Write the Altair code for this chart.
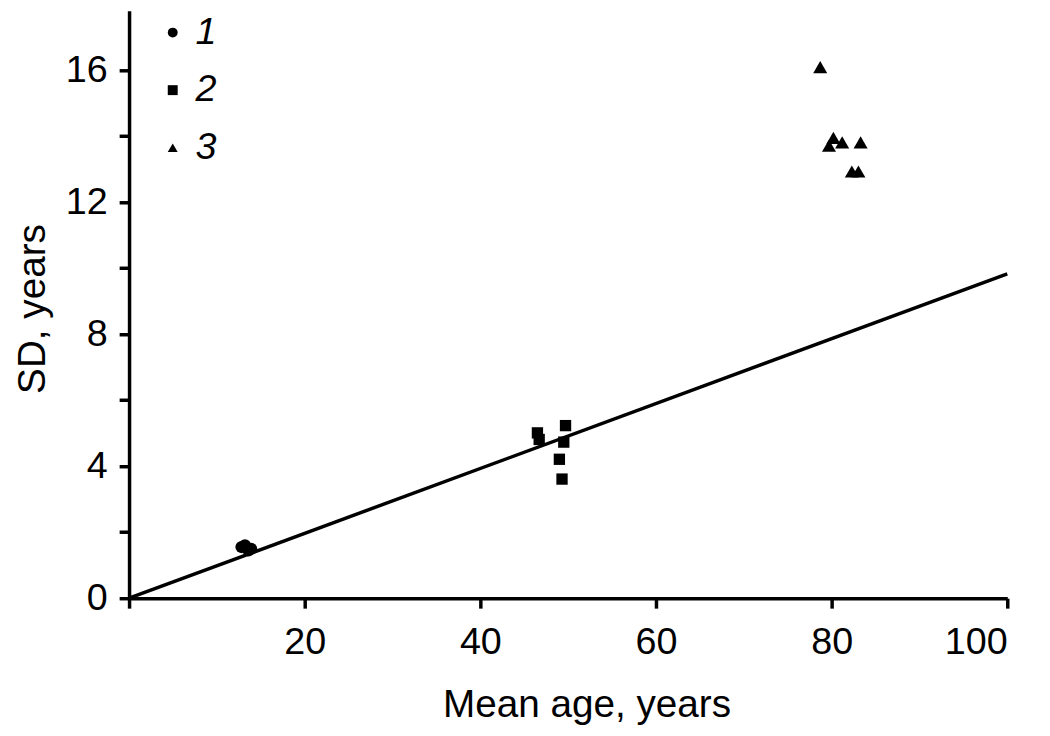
import altair as alt
import pandas as pd

# Group 1 (circles)
g1_x = [12.8, 13.2, 13.6, 13.9]
g1_y = [1.55, 1.60, 1.45, 1.50]
# Group 2 (squares)
g2_x = [46.5, 46.7, 49.7, 49.5, 49.0, 49.3]
g2_y = [5.01, 4.81, 5.23, 4.73, 4.21, 3.61]
# Group 3 (triangles)
g3_x = [78.7, 80.2, 79.7, 81.2, 83.3, 82.3, 83.05]
g3_y = [16.09, 13.95, 13.71, 13.81, 13.81, 12.93, 12.93]

# Regression line
fit_x = [0, 100]
fit_y = [0, 9.83]

group_labels = ["1", "2", "3"]
x_ticks = [0, 20, 40, 60, 80, 100]
y_ticks = [0, 2, 4, 6, 8, 10, 12, 14, 16]

rows = []
for lab, xs, ys in zip(group_labels, [g1_x, g2_x, g3_x], [g1_y, g2_y, g3_y]):
    for a, b in zip(xs, ys):
        rows.append({"age": a, "sd": b, "group": lab})
pts = pd.DataFrame(rows)
line_df = pd.DataFrame({"age": fit_x, "sd": fit_y})

FONT = "Liberation Sans"

xscale = alt.Scale(domain=[0, 100], nice=False, zero=False)
yscale = alt.Scale(domain=[0, 17.8], nice=False, zero=False)

xaxis = alt.Axis(
    values=x_ticks,
    labelExpr="datum.value == 0 ? '' : datum.label",
    title="Mean age, years",
    titleX=461,
    titleY=119,
    titleAlign="center",
    titleBaseline="alphabetic",
    labelPadding=16,
    grid=False,
)
yaxis = alt.Axis(
    values=y_ticks,
    labelExpr="datum.value % 4 == 0 ? datum.label : ''",
    title="SD, years",
    titleX=-85,
    titleY=300,
    titleAngle=270,
    titleAlign="center",
    titleBaseline="alphabetic",
    labelPadding=12,
    grid=False,
)

line = alt.Chart(line_df).mark_line(color="black", strokeWidth=3.5).encode(
    x=alt.X("age:Q", scale=xscale, axis=xaxis),
    y=alt.Y("sd:Q", scale=yscale, axis=yaxis),
)

shape_scale = alt.Scale(domain=group_labels, range=["circle", "square", "triangle-up"])
legend = alt.Legend(
    title=None,
    orient="none",
    legendX=25,
    legendY=3,
    labelFont=FONT,
    labelFontSize=38,
    labelFontStyle="italic",
    labelColor="black",
    labelOffset=4,
    symbolSize=100,
    symbolFillColor="black",
    symbolStrokeColor="black",
    symbolStrokeWidth=0,
    rowPadding=20,
    padding=0,
)

sizes = {"1": 150, "2": 130, "3": 200}
layers = [line]
for i, lab in enumerate(group_labels):
    layers.append(
        alt.Chart(pts)
        .transform_filter(alt.datum.group == lab)
        .mark_point(filled=True, opacity=1, color="black", size=sizes[lab])
        .encode(
            x=alt.X("age:Q", scale=xscale),
            y=alt.Y("sd:Q", scale=yscale),
            shape=alt.Shape("group:N", scale=shape_scale, legend=legend if i == 0 else None),
        )
    )

chart = (
    alt.layer(*layers)
    .properties(
        width=885,
        height=592,
        autosize=alt.AutoSizeParams(type="none"),
        padding={"left": 122, "top": 0, "right": 35, "bottom": 128},
    )
    .configure_view(stroke=None)
    .configure_axis(
        domainColor="black",
        domainWidth=3.5,
        tickColor="black",
        tickWidth=3.5,
        tickSize=10,
        labelFont=FONT,
        labelFontSize=38,
        labelColor="black",
        titleFont=FONT,
        titleFontSize=39,
        titleFontWeight="normal",
        titleColor="black",
    )
)

chart.save("out.html", embed_options={"renderer": "svg", "actions": False})
